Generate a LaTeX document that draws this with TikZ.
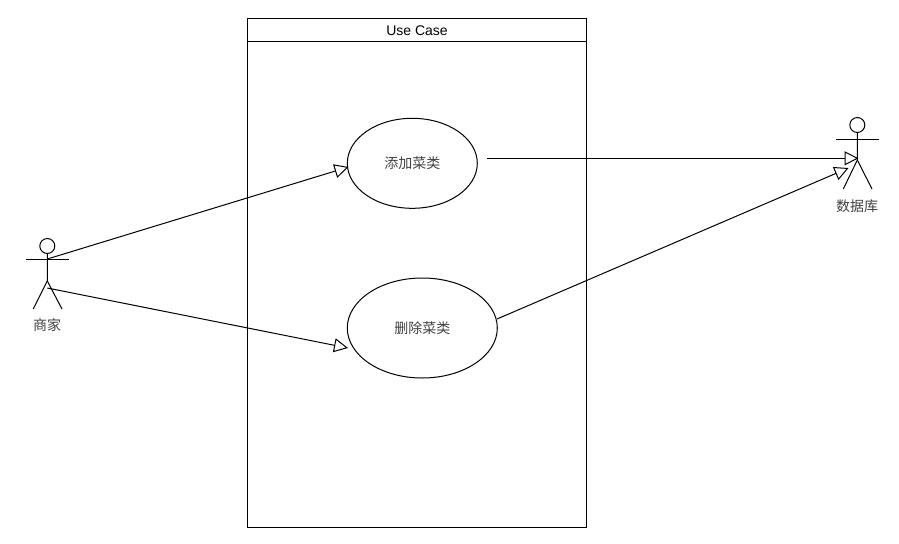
\documentclass[tikz,border=0pt]{standalone}
\usepackage{fontspec}
\setmainfont{Liberation Sans}
\newfontfamily\cjk{Noto Sans CJK SC}
\usetikzlibrary{arrows.meta,shapes.geometric}
\tikzset{
  ln/.style={line width=0.75pt,black},
  usecase/.style={draw,ln,ellipse,inner sep=0pt,font=\cjk\fontsize{10.5pt}{12pt}\selectfont,text=black!75},
  actorlabel/.style={inner sep=0pt,font=\cjk\fontsize{10.5pt}{12pt}\selectfont,text=black!75},
  framebox/.style={draw,ln},
  gen/.style={ln,-{Triangle[open,fill=white,length=10.5pt,width=10.5pt]}}
}
\begin{document}
\begin{tikzpicture}[x=0.75pt,y=-0.75pt]
\useasboundingbox (0,0) rectangle (899,543);
% frame
\node[framebox,minimum width=254.25pt,minimum height=381.4pt,inner sep=0pt] (frame) at (417,272.75) {};
\coordinate (headL) at (247.5,41.5);
\coordinate (headR) at (586.5,41.5);
\draw[ln] (headL) -- (headR);
\node[inner sep=0pt,font=\fontsize{10.5pt}{12pt}\selectfont] (title) at (417,31) {Use Case};
% use cases
\node[usecase,minimum width=97.5pt,minimum height=67.5pt] (add) at (412.3,163.3) {添加菜类};
\node[usecase,minimum width=112.5pt,minimum height=75pt] (del) at (422.3,328) {删除菜类};
% actor left
\node[circle,draw,ln,minimum size=11.25pt,inner sep=0pt] (headA) at (47.3,246) {};
\coordinate (armAl) at (26,259);
\coordinate (armAr) at (69,259);
\coordinate (neckA) at (47.3,259);
\coordinate (hipA) at (47.3,281);
\coordinate (legAl) at (33.3,309);
\coordinate (legAr) at (62,309);
\coordinate (startA2) at (47.3,288);
\draw[ln] (headA.south) -- (hipA) -- (legAl);
\draw[ln] (hipA) -- (legAr);
\draw[ln] (armAl) -- (armAr);
\node[actorlabel] (labA) at (47,325) {商家};
% actor right
\node[circle,draw,ln,minimum size=11.25pt,inner sep=0pt] (headB) at (857.3,125) {};
\coordinate (armBl) at (836,139);
\coordinate (armBr) at (879,139);
\coordinate (hipB) at (857.3,160);
\coordinate (legBl) at (843.3,189);
\coordinate (legBr) at (872,189);
\coordinate (endB1) at (858.5,158.3);
\coordinate (endB2) at (848.5,168);
\coordinate (startAdd) at (487,158.3);
\coordinate (startDel) at (497,319);
\coordinate (endAdd) at (348.5,167);
\coordinate (endDel) at (348,348);
\draw[ln] (headB.south) -- (hipB) -- (legBl);
\draw[ln] (hipB) -- (legBr);
\draw[ln] (armBl) -- (armBr);
\node[actorlabel] (labB) at (857,206) {数据库};
% connectors
\draw[gen] (neckA) -- (endAdd);
\draw[gen] (startA2) -- (endDel);
\draw[gen] (startAdd) -- (endB1);
\draw[gen] (startDel) -- (endB2);
\end{tikzpicture}
\end{document}
